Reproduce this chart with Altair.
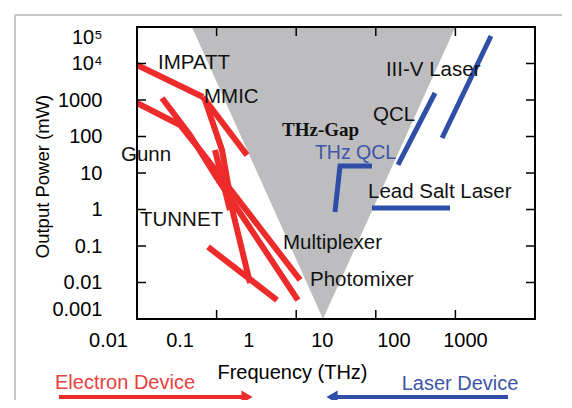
import math
import altair as alt
import pandas as pd

W, H = 398, 292
FONT = "Liberation Sans"
RED = "#ee2b2b"
BLUE = "#2f4ea8"
GRAY = "#bdbdbf"
FS = 20

# ---- axis ticks / labels ----
x_ticks = [0.01, 0.1, 1, 10, 100, 1000]
x_tick_labels = ["0.01", "0.1", "1", "10", "100", "1000"]
x_label_shift = [-29, -37, -48, -54, -62, -70]
y_ticks = [1e5, 1e4, 1e3, 1e2, 10, 1, 0.1, 0.01, 0.001]
y_tick_labels = ["10⁵", "10⁴", "1000", "100", "10", "1", "0.1", "0.01", "0.001"]
frame_x_ticks = [0.1, 1, 10, 100]
frame_y_ticks = [1e4, 1e3, 1e2, 10, 1, 0.1, 0.01]

# ---- THz gap triangle ----
gap_power = [0.001, 1e5]
gap_freq_low = [2.17, 0.049]
gap_freq_high = [2.17, 100]

# ---- electron devices (red) ----
impatt_freq = [0.01, 0.0675]
impatt_power = [9100, 1210]
mmic_freq = [0.0675, 0.241]
mmic_power = [1210, 31]
mmic2_freq = [0.0715, 0.117, 0.161, 0.263]
mmic2_power = [1000, 42.7, 0.80, 0.0097]
gunn_freq = [0.01, 0.0347, 0.0618, 1.12]
gunn_power = [828, 207, 42.7, 0.0117]
gunn2_freq = [0.0206, 0.0463, 0.0955, 1.05]
gunn2_power = [1135, 110, 8.8, 0.0033]
tunnet_freq = [0.078, 0.574]
tunnet_power = [0.094, 0.0033]
extra_freq = [0.0955, 0.147]
extra_power = [42.7, 0.97]

# ---- laser devices (blue) ----
iiiv_freq = [280, 68]
iiiv_power = [56600, 91]
qcl_freq = [55.5, 19]
qcl_power = [1555, 16.6]
thzqcl_freq = [8.95, 3.55, 3.07]
thzqcl_power = [15.6, 15.6, 0.855]
leadsalt_freq = [8.95, 85.5]
leadsalt_power = [1.1, 1.1]

# ---- text labels ----
black_names = ["IMPATT", "MMIC", "Gunn", "TUNNET", "Multiplexer", "Photomixer",
               "QCL", "III-V Laser", "Lead Salt Laser"]
black_freq = [0.01836, 0.0695, 0.00629, 0.0109, 0.682, 1.49, 9.23, 13.4, 7.98]
black_power = [10330, 1208, 31.1, 0.515, 0.121, 0.0117, 388, 6640, 3.01]
blue_names = ["THz QCL"]
blue_freq = [1.72]
blue_power = [35.3]
gap_name = ["THz-Gap"]
gap_label_freq = [0.664]
gap_label_power = [151]


def series_df(items):
    rows = []
    for name, fs, ps in items:
        for i, (f, p) in enumerate(zip(fs, ps)):
            rows.append({"series": name, "freq": f, "power": p, "order": i})
    return pd.DataFrame(rows)


def match_expr(v):
    return f"abs(log(datum.value)/LN10 - ({math.log10(v)})) < 0.01"


def label_expr(vals, labels):
    return "".join(f"{match_expr(v)} ? '{l}' : " for v, l in zip(vals, labels)) + "''"


xs = alt.Scale(type="log", domain=[0.01, 1000], nice=False)
ys = alt.Scale(type="log", domain=[0.001, 1e5], nice=False)

x_axis = alt.Axis(
    values=x_ticks, labelExpr=label_expr(x_ticks, x_tick_labels),
    labelOffset={"condition": [{"test": match_expr(v), "value": s}
                               for v, s in zip(x_ticks, x_label_shift)], "value": 0},
    labelFont=FONT, labelFontSize=FS, labelColor="black", labelPadding=11,
    labelFlush=False, labelOverlap=False, ticks=False, tickSize=0, domain=False, grid=False,
    title="Frequency (THz)", titleFont=FONT, titleFontSize=FS, titleFontWeight="normal",
    titleColor="black", titleX=155, titleY=53, titleAlign="center", titleBaseline="middle",
)
y_axis = alt.Axis(
    values=y_ticks, labelExpr=label_expr(y_ticks, y_tick_labels),
    labelFont=FONT, labelFontSize=FS, labelColor="black", labelPadding=35,
    labelFlush=True, labelOverlap=False, ticks=False, tickSize=0, domain=False, grid=False,
    title="Output Power (mW)", titleFont=FONT, titleFontSize=18.5, titleFontWeight="normal",
    titleColor="black", titleX=-95, titleY=149, titleAngle=270, titleAlign="center",
    titleBaseline="middle",
)


def X(field="freq"):
    return alt.X(field, type="quantitative", scale=xs, axis=x_axis)


def Y(field="power"):
    return alt.Y(field, type="quantitative", scale=ys, axis=y_axis)


gap_df = pd.DataFrame({"power": gap_power, "lo": gap_freq_low, "hi": gap_freq_high})
gap = alt.Chart(gap_df).mark_area(orient="horizontal", color=GRAY, opacity=1).encode(
    y=Y(), x=X("lo"), x2="hi")

red_df = series_df([
    ("IMPATT", impatt_freq, impatt_power), ("MMIC", mmic_freq, mmic_power),
    ("MMIC2", mmic2_freq, mmic2_power), ("Gunn", gunn_freq, gunn_power),
    ("Gunn2", gunn2_freq, gunn2_power), ("TUNNET", tunnet_freq, tunnet_power),
    ("Extra", extra_freq, extra_power)])
blue_df = series_df([
    ("III-V", iiiv_freq, iiiv_power), ("QCL", qcl_freq, qcl_power),
    ("THzQCL", thzqcl_freq, thzqcl_power), ("LeadSalt", leadsalt_freq, leadsalt_power)])

red_lines = alt.Chart(red_df).mark_line(color=RED, strokeWidth=6, strokeCap="butt",
                                         strokeJoin="round").encode(
    x=X(), y=Y(), detail="series:N", order="order:Q")
blue_lines = alt.Chart(blue_df).mark_line(color=BLUE, strokeWidth=5, strokeCap="butt",
                                           strokeJoin="miter").encode(
    x=X(), y=Y(), detail="series:N", order="order:Q")

txt_black = alt.Chart(pd.DataFrame({"name": black_names, "freq": black_freq,
                                    "power": black_power})).mark_text(
    align="left", baseline="middle", font=FONT, fontSize=20.5, color="#111111").encode(
    x=X(), y=Y(), text="name:N")
txt_blue = alt.Chart(pd.DataFrame({"name": blue_names, "freq": blue_freq,
                                   "power": blue_power})).mark_text(
    align="left", baseline="middle", font=FONT, fontSize=19.5, color="#3d55a6").encode(
    x=X(), y=Y(), text="name:N")
txt_gap = alt.Chart(pd.DataFrame({"name": gap_name, "freq": gap_label_freq,
                                  "power": gap_label_power})).mark_text(
    align="left", baseline="middle", font="Liberation Serif", fontSize=19,
    fontWeight="bold", color="#111111").encode(x=X(), y=Y(), text="name:N")

# frame ticks (inward)
fy = pd.DataFrame({"power": frame_y_ticks})
fx = pd.DataFrame({"freq": frame_x_ticks})
tick_style = dict(color="black", strokeWidth=1.5)
ticks_left = alt.Chart(fy).mark_rule(**tick_style).encode(
    y=Y(), x=alt.value(0), x2=alt.value(9))
ticks_right = alt.Chart(fy).mark_rule(**tick_style).encode(
    y=Y(), x=alt.value(W - 9), x2=alt.value(W))
ticks_bottom = alt.Chart(fx).mark_rule(**tick_style).encode(
    x=X(), y=alt.value(H - 9), y2=alt.value(H))
ticks_top = alt.Chart(fx).mark_rule(**tick_style).encode(
    x=X(), y=alt.value(0), y2=alt.value(9))

one = pd.DataFrame({"k": [0]})
frame = alt.Chart(one).mark_rect(fillOpacity=0, stroke="black", strokeWidth=2).encode(
    x=alt.value(0), x2=alt.value(W), y=alt.value(0), y2=alt.value(H))

# outer light border of figure
border_left = alt.Chart(one).mark_rule(color="#c6c6c6", strokeWidth=2).encode(
    x=alt.value(-122), y=alt.value(-12), y2=alt.value(380))
border_top = alt.Chart(one).mark_rule(color="#c6c6c6", strokeWidth=2).encode(
    x=alt.value(-122), x2=alt.value(440), y=alt.value(-12))

# bottom annotations
ann_red = alt.Chart(pd.DataFrame({"t": ["Electron Device"]})).mark_text(
    font=FONT, fontSize=FS, color="#e8403e", align="center", baseline="middle").encode(
    text="t:N", x=alt.value(-12), y=alt.value(356))
ann_blue = alt.Chart(pd.DataFrame({"t": ["Laser Device"]})).mark_text(
    font=FONT, fontSize=FS, color="#3d55a6", align="center", baseline="middle").encode(
    text="t:N", x=alt.value(323), y=alt.value(357))
arrow_red = alt.Chart(one).mark_rule(color=RED, strokeWidth=4).encode(
    x=alt.value(-78), x2=alt.value(106), y=alt.value(370))
head_red = alt.Chart(one).mark_point(shape="triangle-right", filled=True, size=170,
                                     color=RED, opacity=1).encode(
    x=alt.value(110), y=alt.value(370))
arrow_blue = alt.Chart(one).mark_rule(color=BLUE, strokeWidth=4).encode(
    x=alt.value(198), x2=alt.value(371), y=alt.value(370))
head_blue = alt.Chart(one).mark_point(shape="triangle-left", filled=True, size=170,
                                      color=BLUE, opacity=1).encode(
    x=alt.value(195), y=alt.value(370))

chart = alt.layer(
    gap, red_lines, blue_lines, txt_black, txt_blue, txt_gap,
    ticks_left, ticks_right, ticks_bottom, ticks_top, frame,
    border_left, border_top, ann_red, ann_blue, arrow_red, head_red, arrow_blue, head_blue,
).properties(
    width=W, height=H,
    autosize=alt.AutoSizeParams(type="none"),
    padding={"left": 129, "top": 19, "right": 27, "bottom": 81},
).configure_view(strokeWidth=0)

chart.save("out.html", embed_options={"renderer": "svg", "actions": False})
